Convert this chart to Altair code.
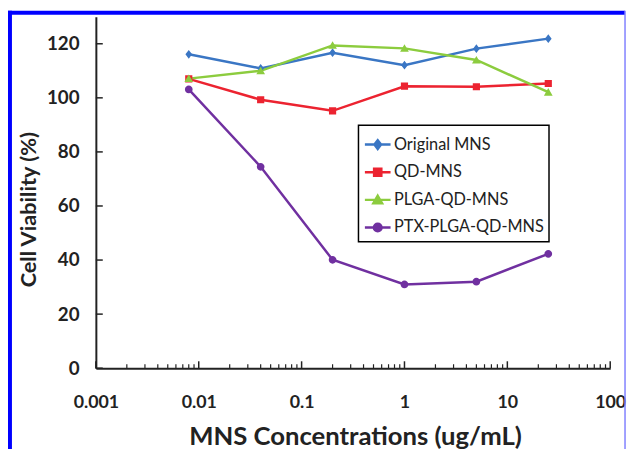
import altair as alt
import pandas as pd

# ---- data ----
conc = [0.008, 0.04, 0.2, 1, 5, 25]
series_names = ["Original MNS", "QD-MNS", "PLGA-QD-MNS", "PTX-PLGA-QD-MNS"]
original_mns = [116.1, 110.9, 116.7, 112.1, 118.2, 121.9]
qd_mns = [107.0, 99.3, 95.2, 104.3, 104.1, 105.3]
plga_qd_mns = [107.1, 110.0, 119.4, 118.3, 114.0, 102.1]
ptx_plga_qd_mns = [103.1, 74.5, 40.1, 31.0, 32.0, 42.3]
colors = ["#3a76c4", "#ec2330", "#8ccc3e", "#7030a0"]
x_tick_values = [0.001, 0.01, 0.1, 1, 10, 100]
x_minor_ticks = [m * 10.0 ** e for e in range(-3, 2) for m in range(2, 10)]
y_tick_values = [0, 20, 40, 60, 80, 100, 120]

rows = []
for name, vals in zip(series_names, [original_mns, qd_mns, plga_qd_mns, ptx_plga_qd_mns]):
    for c, v in zip(conc, vals):
        rows.append({"conc": c, "viability": v, "series": name})
df = pd.DataFrame(rows)

# marker shapes: a horizontal stub (only visible when stroked, i.e. in the legend) + marker
stub = "M-1,0H1"
shapes = [
    stub + "M0,-0.34L0.26,0L0,0.34L-0.26,0Z",
    stub + "M-0.28,-0.28H0.28V0.28H-0.28Z",
    stub + "M0,-0.32L0.34,0.27H-0.34Z",
    stub + "M-0.3,0A0.3,0.3 0 1,0 0.3,0A0.3,0.3 0 1,0 -0.3,0Z",
]

W, H = 521, 356
FONT = "Lato"
INK = "#222222"

xscale = alt.Scale(type="log", domain=[0.001, 100])
yscale = alt.Scale(domain=[0, 130], nice=False)
cscale = alt.Scale(domain=series_names, range=colors)
sscale = alt.Scale(domain=series_names, range=shapes)

x_axis = alt.Axis(
    values=x_tick_values, format="~g", ticks=False, grid=False,
    labelPadding=26, labelFont=FONT, labelFontWeight="bold", labelFontSize=18,
    labelColor=INK, domainColor=INK, domainWidth=2, labelFlush=False, labelOverlap=False,
    title="MNS Concentrations (ug/mL)", titleFont=FONT, titleFontWeight="bold",
    titleFontSize=26, titleColor=INK, titleX=W / 2 + 2, titleY=77,
    titleAlign="center", titleBaseline="alphabetic",
)
y_axis = alt.Axis(
    values=y_tick_values, ticks=False, grid=False,
    labelPadding=17, labelFont=FONT, labelFontWeight="bold", labelFontSize=19,
    labelColor=INK, domainColor=INK, domainWidth=2, labelOverlap=False,
    title="Cell Viability (%)", titleFont=FONT, titleFontWeight="bold",
    titleFontSize=22, titleColor=INK, titleX=-68, titleY=195,
    titleAlign="center", titleBaseline="middle",
)

# inward tick marks
xmaj = alt.Chart(pd.DataFrame({"t": x_tick_values})).mark_rule(color=INK, strokeWidth=1.5).encode(
    x=alt.X("t:Q", scale=xscale, axis=x_axis), y=alt.value(H), y2=alt.value(H - 7)
)
xmin = alt.Chart(pd.DataFrame({"t": x_minor_ticks})).mark_rule(color=INK, strokeWidth=1.2).encode(
    x=alt.X("t:Q", scale=xscale, axis=x_axis), y=alt.value(H), y2=alt.value(H - 4)
)
yt = alt.Chart(pd.DataFrame({"v": y_tick_values})).mark_rule(color=INK, strokeWidth=1.5).encode(
    y=alt.Y("v:Q", scale=yscale, axis=y_axis), x=alt.value(0), x2=alt.value(7)
)

lines = alt.Chart(df).mark_line(strokeWidth=2.5).encode(
    x=alt.X("conc:Q", scale=xscale, axis=x_axis),
    y=alt.Y("viability:Q", scale=yscale, axis=y_axis),
    color=alt.Color("series:N", scale=cscale, legend=None),
)
points = alt.Chart(df).mark_point(filled=True, size=676, opacity=1).encode(
    x=alt.X("conc:Q", scale=xscale, axis=x_axis),
    y=alt.Y("viability:Q", scale=yscale, axis=y_axis),
    color=alt.Color("series:N", scale=cscale, legend=None),
    shape=alt.Shape("series:N", scale=sscale, legend=None),
)
legend_layer = alt.Chart(df).transform_filter("false").mark_point(
    filled=True, size=676, opacity=1, strokeWidth=2.5
).encode(
    color=alt.Color("series:N", scale=cscale, legend=alt.Legend(title=None)),
    stroke=alt.Stroke("series:N", scale=alt.Scale(domain=series_names, range=colors),
                      legend=alt.Legend(title=None)),
    shape=alt.Shape("series:N", scale=sscale, legend=alt.Legend(title=None)),
)

# blue picture frame
one = pd.DataFrame({"a": [0]})
frame_top = alt.Chart(one).mark_rule(color="#0000ff", strokeWidth=4).encode(
    x=alt.value(-89), x2=alt.value(536), y=alt.value(-4)
)
frame_left = alt.Chart(one).mark_rule(color="#0000ff", strokeWidth=4).encode(
    x=alt.value(-87), y=alt.value(-6), y2=alt.value(440)
)
frame_right = alt.Chart(one).mark_rule(color="#8080ff", strokeWidth=1.5).encode(
    x=alt.value(536), y=alt.value(-6), y2=alt.value(440)
)

chart = alt.layer(
    xmin, xmaj, yt, lines, points, legend_layer, frame_top, frame_left, frame_right
).resolve_legend(
    color="independent", shape="independent", stroke="independent"
).properties(
    width=W, height=H,
    autosize=alt.AutoSizeParams(type="none"),
    padding={"left": 89, "top": 6, "right": 17, "bottom": 79},
    background="white",
).configure_view(stroke=None).configure_legend(
    orient="none", legendX=266, legendY=110, padding=5,
    strokeColor="black", strokeWidth=1.5, fillColor="white",
    labelFont=FONT, labelFontSize=16.5, labelColor=INK, labelOffset=2,
    symbolSize=676, symbolStrokeWidth=2.5, rowPadding=4,
    symbolFillColor="white", symbolStrokeColor="white",
)

chart.save("out.html", embed_options={"renderer": "svg", "actions": False})
